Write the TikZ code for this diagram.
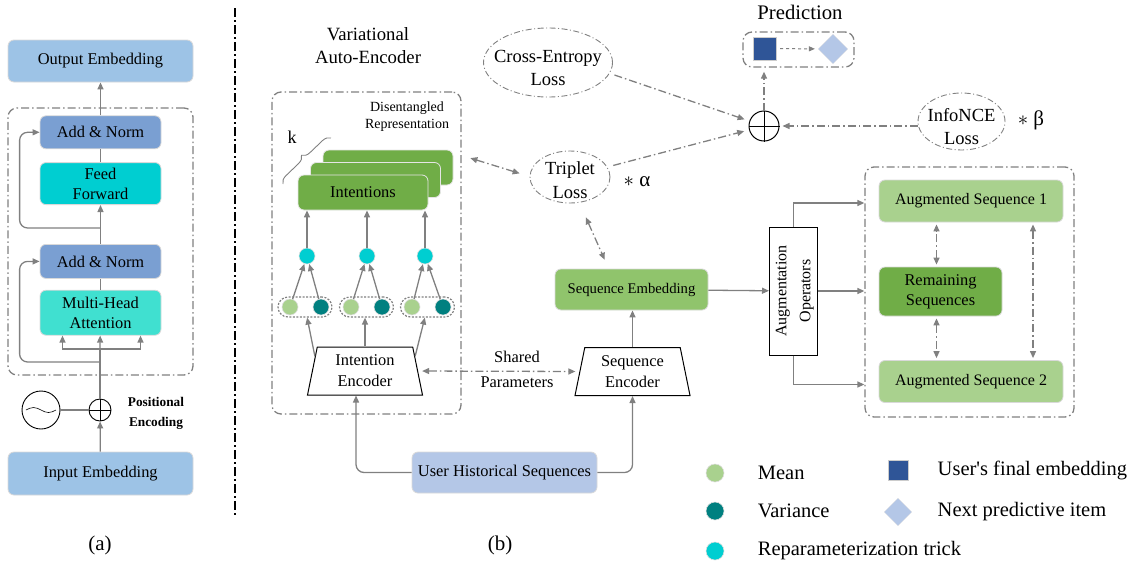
\documentclass[tikz,border=0pt]{standalone}
\usepackage{fontspec}
\setmainfont{Liberation Serif}
\usepackage{graphicx}
\usetikzlibrary{positioning,shapes.geometric,arrows.meta,calc,decorations.pathreplacing}

\definecolor{embblue}{HTML}{9DC3E6}
\definecolor{normblue}{HTML}{7A9FD2}
\definecolor{ffcyan}{HTML}{00CED1}
\definecolor{mhacyan}{HTML}{40E0D0}
\definecolor{userblue}{HTML}{B4C7E7}
\definecolor{intgreen}{HTML}{70AD47}
\definecolor{embgreen}{HTML}{90C46C}
\definecolor{auggreen}{HTML}{A9D18E}
\definecolor{vargreen}{HTML}{008080}
\definecolor{predblue}{HTML}{2F5597}
\definecolor{linegray}{HTML}{808080}

\newcommand{\fsz}[2]{\fontsize{#1pt}{#2pt}\selectfont}

\begin{document}
\begin{tikzpicture}[x=1pt, y=-1pt, node distance=20pt,
    box/.style={rectangle, rounded corners=6pt, draw=gray!30, line width=0.8pt, align=center, inner sep=2pt, font=\fsz{16.4}{20}},
    conn/.style={draw=linegray, line width=1.3pt},
    arr/.style={conn, -{Triangle[length=7pt,width=6pt]}},
    ddash/.style={draw=linegray, line width=1.3pt, dash pattern=on 8pt off 3pt on 1.5pt off 3pt},
    dsarr/.style={ddash, -{Triangle[length=7pt,width=6pt]}},
    darr/.style={ddash, {Triangle[length=7pt,width=6pt]}-{Triangle[length=7pt,width=6pt]}, shorten <=2pt, shorten >=2pt},
    dcont/.style={ddash, rectangle, rounded corners=9pt},
    loss/.style={ellipse, draw=linegray, line width=0.9pt, inner sep=0pt, dash pattern=on 6pt off 2.5pt on 1pt off 2.5pt},
    blob/.style={circle, inner sep=0pt, minimum size=16pt, draw=gray!25, line width=0.6pt},
    grp/.style={rectangle, rounded corners=10pt, draw=linegray, line width=1.2pt, dash pattern=on 2pt off 1.5pt, minimum width=54pt, minimum height=20pt},
    enc/.style={trapezium, trapezium left angle=73, trapezium right angle=73, trapezium stretches body, draw, line width=1pt, align=center, minimum width=115pt, minimum height=48pt, inner sep=0pt, font=\fsz{16.4}{21}}
]
    \useasboundingbox (0,0) rectangle (1139,563);
    % panel (a)
    \node[box, fill=embblue, minimum width=185pt, minimum height=42pt] (outemb) at (100.5,61) {Output Embedding};
    \node[box, fill=normblue, minimum width=121pt, minimum height=33pt, below=33pt of outemb] (an1) {Add \& Norm};
    \node[box, fill=ffcyan, minimum width=121pt, minimum height=42pt, below=13pt of an1] (ff) {Feed\\Forward};
    \node[box, fill=normblue, minimum width=121pt, minimum height=34pt, below=39pt of ff] (an2) {Add \& Norm};
    \node[box, fill=mhacyan, minimum width=121pt, minimum height=45pt, below=11pt of an2] (mha) {Multi-Head\\Attention};
    \node[dcont, minimum width=185pt, minimum height=267pt] (blk) at (100.5,241.5) {};
    \node[box, fill=embblue, minimum width=185pt, minimum height=43pt] (inemb) at (100.5,473.5) {Input Embedding};
    \node[circle, draw, line width=0.9pt, minimum size=22pt, inner sep=0pt] (pa) at (100,410) {};
    \node[circle, draw, line width=0.9pt, minimum size=38pt, inner sep=0pt] (sine) at (41,410) {};
    \draw[line width=0.6pt] ([xshift=-15pt]sine.center) sin +(7.5pt,2.5pt) cos +(7.5pt,-2.5pt) sin +(7.5pt,-2.5pt) cos +(7.5pt,2.5pt);
    \draw[line width=0.8pt] (pa.north) -- (pa.south) (pa.west) -- (pa.east);
    \node[font={\bfseries\fsz{13.3}{20}}, align=center] (pelab) at (156,413) {Positional\\Encoding};
    \coordinate (split) at (100,349);
    \coordinate (r1) at (100,228);
    \coordinate (r2) at (100,362);

    \draw[arr] (inemb) -- (pa);
    \draw[conn] (sine) -- (pa);
    \draw[conn] (pa) -- (split);
    \draw[arr] (split) -- (mha);
    \draw[arr] (split) -| ([xshift=-38pt]mha.south);
    \draw[arr] (split) -| ([xshift=40pt]mha.south);
    \draw[conn] (mha) -- (an2);
    \draw[arr] (an2) -- (ff);
    \draw[conn] (ff) -- (an1);
    \draw[arr] (an1) -- (outemb);
    \draw[arr, rounded corners=8pt] (r1) -| ([xshift=-20pt]an1.west) -- (an1.west);
    \draw[arr, rounded corners=8pt] (r2) -| ([xshift=-20pt]an2.west) -- (an2.west);
    \node[font=\fsz{21}{25}] (capa) at (100,545) {(a)};

    \draw[line width=1.3pt, dash pattern=on 9pt off 3pt on 2pt off 3pt] (235,8) -- (235,516);

    % panel (b): VAE
    \node[font=\fsz{18.7}{23}, align=center] (vaetitle) at (368,46) {Variational\\Auto-Encoder};
    \node[dcont, minimum width=189pt, minimum height=322pt] (vae) at (366.5,253) {};
    \node[font=\fsz{14}{17}, align=center] (dislab) at (407,116.5) {Disentangled\\Representation};
    \node[box, fill=intgreen, draw=gray!20, minimum width=130pt, minimum height=35pt] (int3) at (388,167.5) {};
    \node[box, fill=intgreen, draw=gray!20, minimum width=130pt, minimum height=35pt] (int2) at (375.5,180) {};
    \node[box, fill=intgreen, draw=gray!20, minimum width=130pt, minimum height=35pt] (int1) at (363,192.5) {Intentions};
    \draw[decorate, decoration={brace, amplitude=8pt}, linegray, line width=0.9pt] (283,184) -- (331,138);
    \node[font=\fsz{18}{20}] (klab) at (292,137) {k};

    \node[grp] (g1) at (305,307) {};
    \node[grp] (g2) at (366.5,307) {};
    \node[grp] (g3) at (427.5,307) {};
    \node[blob, fill=auggreen] (m1) at (290,307) {};
    \node[blob, fill=vargreen] (v1) at (321,307) {};
    \node[blob, fill=auggreen] (m2) at (351,307) {};
    \node[blob, fill=vargreen] (v2) at (382,307) {};
    \node[blob, fill=auggreen] (m3) at (412,307) {};
    \node[blob, fill=vargreen] (v3) at (443,307) {};
    \node[blob, fill=ffcyan] (c1) at (307,256) {};
    \node[blob, fill=ffcyan] (c2) at (367,256) {};
    \node[blob, fill=ffcyan] (c3) at (425,256) {};
    \draw[arr] (m1) -- (c1);
    \draw[arr] (v1) -- (c1);
    \draw[arr] (m2) -- (c2);
    \draw[arr] (v2) -- (c2);
    \draw[arr] (m3) -- (c3);
    \draw[arr] (v3) -- (c3);
    \draw[arr] (c1) -- (c1 |- int1.south);
    \draw[arr] (c2) -- (c2 |- int1.south);
    \draw[arr] (c3) -- (c3 |- int1.south);

    \node[enc] (ienc) at (365,371) {Intention\\Encoder};
    \draw[arr] ($(ienc.top left corner)!0.2!(ienc.bottom left corner)$) -- (g1);
    \draw[arr] (ienc.north) -- (ienc.north |- g2.south);
    \draw[arr] ($(ienc.top right corner)!0.2!(ienc.bottom right corner)$) -- (g3);

    % sequence branch
    \node[enc] (senc) at (632.5,371.5) {Sequence\\Encoder};
    \draw[darr, shorten <=4pt, shorten >=4pt] (ienc.east) -- (senc.west);
    \node[font=\fsz{16.4}{25}, align=center] (shlab) at (517,369) {Shared\\Parameters};
    \node[box, fill=userblue, minimum width=185pt, minimum height=41pt] (uhs) at (504.5,472.5) {User Historical Sequences};
    \draw[arr, rounded corners=8pt] (uhs.west) -| ([xshift=-9pt]ienc.south);
    \draw[arr, rounded corners=8pt] (uhs.east) -| (senc.south);
    \node[box, fill=embgreen, font=\fsz{14.7}{18}, minimum width=153pt, minimum height=41pt] (semb) at (631.5,289.5) {Sequence Embedding};
    \draw[arr] (senc.north) -- (senc.north |- semb.south);

    % losses
    \node[loss, minimum width=80pt, minimum height=52pt, label={[align=center, font=\fsz{18.5}{24}, yshift=-3pt]center:Triplet\\Loss}] (trip) at (570,177) {};
    \node[font=\fsz{21}{22}] (alab) at (637,182) {$\ast$ α};
    \node[loss, minimum width=129pt, minimum height=69pt, label={[align=center, font=\fsz{18.5}{23}, yshift=-5pt]center:Cross-Entropy\\Loss}] (ce) at (548,62.5) {};
    \node[loss, minimum width=87pt, minimum height=57pt, label={[align=center, font=\fsz{18.5}{23}, yshift=-5pt]center:InfoNCE\\Loss}] (info) at (961.5,121.5) {};
    \node[font=\fsz{21}{22}] (blab) at (1031,120) {$\ast$ β};
    \node[circle, draw, line width=1pt, minimum size=30pt, inner sep=0pt] (plus) at (764,126) {};
    \draw[line width=0.8pt] (plus.north) -- (plus.south) (plus.west) -- (plus.east);
    \draw[darr] ([xshift=15pt,yshift=10pt]int3.east) -- ([xshift=-8pt,yshift=3pt]trip.west);
    \draw[darr] ([xshift=15pt,yshift=-12pt]trip.south) -- ([xshift=-26pt,yshift=7pt]semb.north);
    \draw[dsarr, shorten <=5pt, shorten >=5pt] (ce.-10) -- (plus);
    \draw[dsarr, shorten <=6pt, shorten >=5pt] (trip.15) -- (plus);
    \draw[dsarr, shorten >=3pt] (info.west |- plus) -- (plus);

    % prediction
    \node[dcont, minimum width=111pt, minimum height=35pt] (pred) at (798.5,49.5) {};
    \node[font=\fsz{20.7}{24}] (predlab) at (800,12) {Prediction};
    \node[rectangle, fill=predblue, draw=gray!40, minimum size=23pt, inner sep=0pt] (psq) at (764.5,48.5) {};
    \node[diamond, fill=userblue, draw=gray!20, minimum size=30pt, inner sep=0pt] (pdia) at (833,49) {};
    \draw[linegray, line width=1pt, dashed, -{Triangle[length=6pt,width=5pt]}, shorten <=4pt, shorten >=3pt] (psq) -- (pdia);
    \draw[dsarr, shorten >=4pt] (plus) -- (plus |- pred.south);

    % augmentation
    \node[rectangle, draw, line width=1pt, minimum width=47pt, minimum height=128pt, inner sep=0pt, font=\fsz{16}{24}] (augop) at (793.5,291) {\rotatebox{90}{\begin{tabular}{@{}c@{}}Augmentation\\Operators\end{tabular}}};
    \draw[arr] (semb) -- (augop);
    \node[dcont, minimum width=209pt, minimum height=250pt] (augbox) at (969.5,292) {};
    \node[box, fill=auggreen, minimum width=184pt, minimum height=42pt, font=\fsz{16}{20}] (aug1) at (971,201) {Augmented Sequence 1};
    \node[box, fill=intgreen, minimum width=123pt, minimum height=49pt] (rem) at (940.5,291.5) {Remaining\\Sequences};
    \node[box, fill=auggreen, minimum width=184pt, minimum height=42pt, font=\fsz{16}{20}] (aug2) at (971,381.5) {Augmented Sequence 2};
    \draw[arr] (augop.north) |- ([yshift=-2pt]aug1.center -| augbox.west);
    \draw[arr] (augop.east) -- (augop.east -| augbox.west);
    \draw[arr] (augop.south) |- ([yshift=-3pt]aug2.center -| augbox.west);
    \draw[darr] ([xshift=-4pt]rem.north) -- ([xshift=-4pt]rem.north |- aug1.south);
    \draw[darr] ([xshift=-4pt]rem.south) -- ([xshift=-4pt]rem.south |- aug2.north);
    \draw[darr] ([xshift=62pt]aug1.south) -- ([xshift=62pt]aug2.north);

    % legend
    \node[blob, fill=auggreen, minimum size=18pt] (lmean) at (715,473) {};
    \node[blob, fill=vargreen, minimum size=18pt] (lvar) at (715,511) {};
    \node[blob, fill=ffcyan, minimum size=18pt] (lrep) at (715,551) {};
    \node[font=\fsz{20.5}{24}, right=30pt of lmean] (tmean) {Mean};
    \node[font=\fsz{20.5}{24}, right=30pt of lvar] (tvar) {Variance};
    \node[font=\fsz{20.5}{24}, right=30pt of lrep] (trep) {Reparameterization trick};
    \node[rectangle, fill=predblue, draw=gray!40, minimum size=20pt, inner sep=0pt] (lsq) at (898,470) {};
    \node[diamond, fill=userblue, draw=gray!20, minimum size=28pt, inner sep=0pt] (ldia) at (898,512) {};
    \node[font=\fsz{20.5}{24}, right=26pt of lsq] (tsq) {User\textquotesingle s final embedding};
    \node[font=\fsz{20.5}{24}, right=22pt of ldia] (tdia) {Next predictive item};
    \node[font=\fsz{21}{25}] (capb) at (500,545) {(b)};
\end{tikzpicture}
\end{document}
